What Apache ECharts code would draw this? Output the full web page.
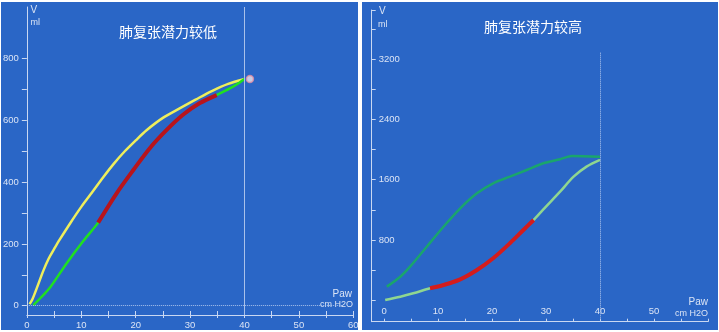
<!DOCTYPE html>
<html><head><meta charset="utf-8">
<script src="https://cdn.jsdelivr.net/npm/echarts@6/dist/echarts.min.js"></script>
<style>html,body{margin:0;padding:0;background:#fff}#c{width:719px;height:332px}</style>
</head><body><div id="c"></div>
<script>
// ---- Data ----
const leftTitle = '肺复张潜力较低';
const rightTitle = '肺复张潜力较高';
const leftXLabels = [0, 10, 20, 30, 40, 50, 60];
const leftYLabels = [0, 200, 400, 600, 800];
const rightXLabels = [0, 10, 20, 30, 40, 50];
const rightYLabels = [800, 1600, 2400, 3200];

// left panel (low recruitability)
const leftYellow = [[0.5,5],[1,20],[2,65],[3,112],[4,152],[5,183],[6,213],[8,268],[10,320],[12,367],[14,415],[16,460],[18,500],[20,535],[22,568],[25,608],[28,638],[31,667],[34,695],[37,718],[40,734]];
const leftGreen = [[1.2,2],[2.5,25],[4.3,60],[7.3,137],[10.4,210],[13.1,269],[16.5,364],[19.6,440],[22.6,510],[25.7,569],[28.7,618],[31.8,656],[34.9,682],[37.9,709],[40,734]];
const leftRed = [[13.1,269],[16.5,364],[19.6,440],[22.6,510],[25.7,569],[28.7,618],[31.8,656],[34.9,682]];
const leftEndPoint = [[41,734]];

// right panel (high recruitability)
const rightUpper = [[0.5,181],[3,313],[4.8,446],[7.9,711],[11,976],[14.1,1220],[17.2,1419],[20.2,1552],[23.3,1639],[26.4,1728],[29.5,1817],[32.6,1870],[34.8,1914],[40,1905]];
const rightLower = [[0.2,4],[3,48],[5.4,93],[8.5,159],[11,203],[14.1,278],[17.2,402],[20.2,557],[23.3,756],[25.8,932],[27.7,1065],[29.5,1205],[32.6,1440],[35.1,1639],[37.5,1772],[40,1861]];
const rightRed = [[8.5,159],[11,203],[14.1,278],[17.2,402],[20.2,557],[23.3,756],[25.8,932],[27.7,1065]];

// ---- Chart ----
const range = (a, b, s) => { const r = []; for (let v = a; v <= b + 1e-9; v += s) r.push(v); return r; };
const BG = '#2a66c6';
const AX = '#c9d8f2';
const LBL = '#dbe4f5';
const FONT = '"Liberation Sans", Arial, sans-serif';
const plain = v => String(v);
const chart = echarts.init(document.getElementById('c'), null, {renderer: 'canvas'});

const option = {
  animation: false,
  backgroundColor: '#ffffff',
  graphic: [
    {type: 'rect', z: -10, shape: {x: 1, y: 2, width: 357, height: 328}, style: {fill: BG}},
    {type: 'rect', z: -10, shape: {x: 362, y: 2, width: 356, height: 328}, style: {fill: BG}},
    {type: 'text', style: {text: leftTitle, x: 168, y: 32, fill: '#ffffff', font: '14px "Noto Sans CJK SC", sans-serif', align: 'center', verticalAlign: 'middle'}},
    {type: 'text', style: {text: rightTitle, x: 533, y: 27, fill: '#ffffff', font: '14px "Noto Sans CJK SC", sans-serif', align: 'center', verticalAlign: 'middle'}},
    {type: 'text', style: {text: 'V', x: 30.5, y: 5, fill: LBL, font: '10px ' + FONT}},
    {type: 'text', style: {text: 'ml', x: 30.5, y: 18, fill: LBL, font: '9px ' + FONT}},
    {type: 'text', style: {text: 'Paw', x: 352, y: 289, fill: LBL, font: '10px ' + FONT, align: 'right'}},
    {type: 'text', style: {text: 'cm H2O', x: 353, y: 300, fill: LBL, font: '9px ' + FONT, align: 'right'}},
    {type: 'text', style: {text: 'V', x: 379, y: 6, fill: LBL, font: '10px ' + FONT}},
    {type: 'text', style: {text: 'ml', x: 378, y: 20, fill: LBL, font: '9px ' + FONT}},
    {type: 'text', style: {text: 'Paw', x: 708, y: 297, fill: LBL, font: '10px ' + FONT, align: 'right'}},
    {type: 'text', style: {text: 'cm H2O', x: 708, y: 309, fill: LBL, font: '9px ' + FONT, align: 'right'}}
  ],
  grid: [
    {left: 26.7, right: 719 - 353.3, top: 7, bottom: 332 - 315},
    {left: 371.7, right: 719 - 708, top: 10, bottom: 332 - 321.7}
  ],
  xAxis: [
    {gridIndex: 0, type: 'value', min: 0, max: 60, position: 'bottom',
     axisLine: {show: true, onZero: false, lineStyle: {color: AX, width: 1}},
     axisTick: {show: true, inside: true, length: 4, customValues: range(0, 60, 5), lineStyle: {color: AX}},
     axisLabel: {customValues: leftXLabels, formatter: plain, color: LBL, fontSize: 9.5, fontFamily: FONT, margin: 5},
     splitLine: {show: false}},
    {gridIndex: 0, type: 'value', min: 0, max: 60, position: 'bottom',
     axisLine: {show: false, onZero: false},
     axisTick: {show: true, inside: false, length: 3, customValues: range(0, 60, 5), lineStyle: {color: AX}},
     axisLabel: {show: false}, splitLine: {show: false}},
    {gridIndex: 1, type: 'value', min: -2.3, max: 60, position: 'bottom',
     axisLine: {show: true, onZero: false, lineStyle: {color: AX, width: 1}},
     axisTick: {show: true, inside: true, length: 3, customValues: range(0, 60, 5), lineStyle: {color: AX}},
     axisLabel: {inside: true, customValues: rightXLabels, formatter: plain, color: LBL, fontSize: 9.5, fontFamily: FONT, margin: 5},
     splitLine: {show: false}}
  ],
  yAxis: [
    {gridIndex: 0, type: 'value', min: -30, max: 967,
     axisLine: {show: true, onZero: false, lineStyle: {color: AX, width: 1}},
     axisTick: {show: true, inside: false, length: 5, customValues: range(0, 800, 100), lineStyle: {color: AX}},
     axisLabel: {customValues: leftYLabels, formatter: plain, color: LBL, fontSize: 9.5, fontFamily: FONT, margin: 8},
     splitLine: {show: false}},
    {gridIndex: 1, type: 'value', min: -284, max: 3850,
     axisLine: {show: true, onZero: false, lineStyle: {color: AX, width: 1}},
     axisTick: {show: true, inside: true, length: 4, customValues: range(0, 3600, 400).concat([3850]), lineStyle: {color: AX}},
     axisLabel: {inside: true, customValues: rightYLabels, formatter: plain, color: LBL, fontSize: 9.5, fontFamily: FONT, margin: 7},
     splitLine: {show: false}}
  ],
  series: [
    {type: 'line', xAxisIndex: 0, yAxisIndex: 0, data: [], silent: true,
     markLine: {silent: true, symbol: 'none', label: {show: false},
       data: [
         [{coord: [40, -30], lineStyle: {color: '#a9c1ea', width: 1, type: 'solid'}}, {coord: [40, 967]}],
         [{coord: [0, 0], lineStyle: {color: '#aac3ec', width: 1, type: 'dotted'}}, {coord: [58, 0]}]
       ]}},
    {type: 'line', xAxisIndex: 0, yAxisIndex: 0, data: leftYellow, smooth: 0.3, showSymbol: false,
     lineStyle: {color: '#eeee5c', width: 2.5}},
    {type: 'line', xAxisIndex: 0, yAxisIndex: 0, data: leftGreen, smooth: 0.3, showSymbol: false,
     lineStyle: {color: '#20e020', width: 2.5}},
    {type: 'line', xAxisIndex: 0, yAxisIndex: 0, data: leftRed, smooth: 0.3, showSymbol: false,
     lineStyle: {color: '#b8141c', width: 4}},
    {type: 'scatter', xAxisIndex: 0, yAxisIndex: 0, data: leftEndPoint, symbolSize: 7,
     itemStyle: {color: '#f3e6ea', borderColor: '#e28ca2', borderWidth: 1.5}},

    {type: 'line', xAxisIndex: 2, yAxisIndex: 1, data: [], silent: true,
     markLine: {silent: true, symbol: 'none', label: {show: false},
       data: [
         [{coord: [40, -284], lineStyle: {color: '#b2c7ee', width: 1, type: 'dotted'}}, {coord: [40, 3297]}]
       ]}},
    {type: 'line', xAxisIndex: 2, yAxisIndex: 1, data: rightUpper, smooth: 0.3, showSymbol: false,
     lineStyle: {color: '#1aa56c', width: 2.5}},
    {type: 'line', xAxisIndex: 2, yAxisIndex: 1, data: rightLower, smooth: 0.3, showSymbol: false,
     lineStyle: {color: '#8fd690', width: 2.5}},
    {type: 'line', xAxisIndex: 2, yAxisIndex: 1, data: rightRed, smooth: 0.3, showSymbol: false,
     lineStyle: {color: '#d41c1c', width: 4}}
  ]
};
chart.setOption(option);
</script>
</body></html>
